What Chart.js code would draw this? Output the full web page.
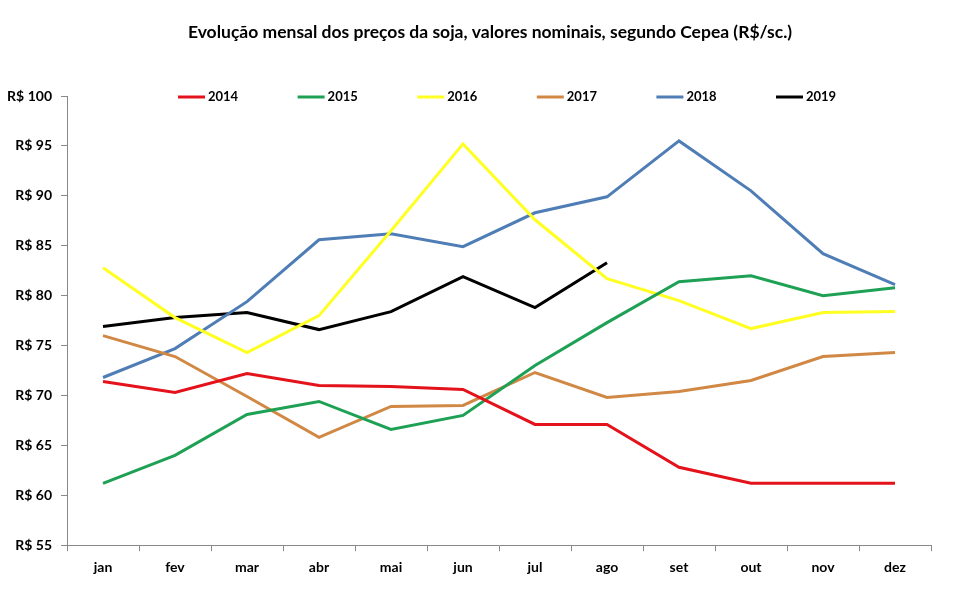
<!DOCTYPE html>
<html>
<head>
<meta charset="utf-8">
<script src="https://cdn.jsdelivr.net/npm/chart.js@4.4.0/dist/chart.umd.min.js"></script>
<style>
  html, body { margin: 0; padding: 0; background: #fff; }
  #wrap { width: 960px; height: 592px; }
</style>
</head>
<body>
<div id="wrap"><canvas id="chart" width="960" height="592"></canvas></div>
<script>
const months = ['jan', 'fev', 'mar', 'abr', 'mai', 'jun', 'jul', 'ago', 'set', 'out', 'nov', 'dez'];
const years = ['2014', '2015', '2016', '2017', '2018', '2019'];
const p2014 = [71.4, 70.3, 72.2, 71.0, 70.9, 70.6, 67.1, 67.1, 62.8, 61.2, 61.2, 61.2];
const p2015 = [61.2, 64.0, 68.1, 69.4, 66.6, 68.0, 73.0, 77.3, 81.4, 82.0, 80.0, 80.8];
const p2016 = [82.8, 77.8, 74.3, 78.0, 86.5, 95.2, 87.6, 81.7, 79.5, 76.7, 78.3, 78.4];
const p2017 = [76.0, 73.9, 69.9, 65.8, 68.9, 69.0, 72.3, 69.8, 70.4, 71.5, 73.9, 74.3];
const p2018 = [71.8, 74.7, 79.4, 85.6, 86.2, 84.9, 88.3, 89.9, 95.5, 90.5, 84.2, 81.1];
const p2019 = [76.9, 77.8, 78.3, 76.6, 78.4, 81.9, 78.8, 83.3];
const colors = ['#e3121b', '#1ea155', '#ffff22', '#d08844', '#4f7db5', '#000000'];
const title = 'Evolução mensal dos preços da soja, valores nominais, segundo Cepea (R$/sc.)';

const series = [p2014, p2015, p2016, p2017, p2018, p2019];
const FONT = 'Lato, "Liberation Sans", sans-serif';

// title + legend drawn by hand (legend sits inside the plot, on the top line)
const extras = {
  id: 'extras',
  afterDatasetsDraw(chart) {
    const ctx = chart.ctx;
    const area = chart.chartArea;
    ctx.save();
    ctx.fillStyle = '#000';
    ctx.textAlign = 'center';
    ctx.textBaseline = 'middle';
    ctx.font = 'bold 17.5px ' + FONT;
    ctx.fillText(title, 490, 32);

    ctx.textAlign = 'left';
    ctx.font = 'bold 13px ' + FONT;
    chart.data.datasets.forEach((ds, i) => {
      const x = area.left + 111 + i * 119.6;
      const y = area.top + 1;
      ctx.strokeStyle = ds.borderColor;
      ctx.lineWidth = 3;
      ctx.beginPath();
      ctx.moveTo(x, y);
      ctx.lineTo(x + 27, y);
      ctx.stroke();
      ctx.fillStyle = '#000';
      ctx.fillText(ds.label, x + 30, y);
    });
    ctx.restore();
  }
};

new Chart(document.getElementById('chart').getContext('2d'), {
  type: 'line',
  data: {
    labels: months,
    datasets: series.map((d, i) => ({
      label: years[i],
      data: d,
      borderColor: colors[i],
      backgroundColor: colors[i],
      borderWidth: 3,
      pointRadius: 0,
      tension: 0,
      fill: false
    }))
  },
  options: {
    responsive: false,
    animation: false,
    layout: { padding: { top: 96, left: 0, right: 29, bottom: 8 } },
    plugins: {
      legend: { display: false },
      tooltip: { enabled: false },
      title: { display: false }
    },
    scales: {
      x: {
        offset: true,
        grid: { display: true, drawOnChartArea: false, offset: true, color: '#888', tickLength: 6 },
        border: { color: '#888', width: 1 },
        ticks: { color: '#000', font: { family: FONT, size: 14, weight: 'bold' }, padding: 8 }
      },
      y: {
        min: 55,
        max: 100,
        afterFit(scale) { scale.width = 67; },
        grid: { display: true, drawOnChartArea: false, color: '#888', tickLength: 6 },
        border: { color: '#888', width: 1 },
        ticks: {
          stepSize: 5,
          color: '#000',
          padding: 9,
          font: { family: FONT, size: 14, weight: 'bold' },
          callback: v => 'R$ ' + v
        }
      }
    }
  },
  plugins: [extras]
});
</script>
</body>
</html>
